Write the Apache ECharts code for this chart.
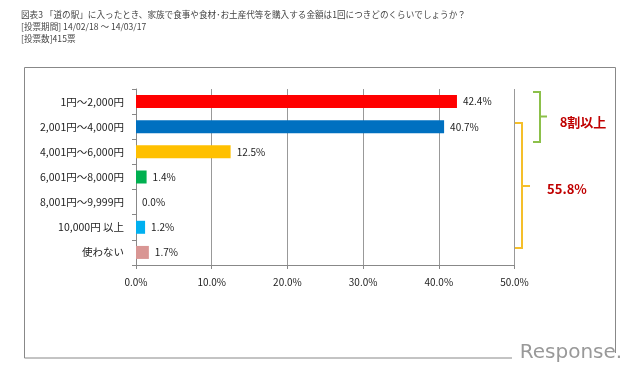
<!DOCTYPE html>
<html><head><meta charset="utf-8">
<script src="https://cdn.jsdelivr.net/npm/echarts@6/dist/echarts.min.js"></script>
<style>html,body{margin:0;padding:0;background:#fff}#c{width:640px;height:378px}</style>
</head><body><div id="c"></div>
<script>
const categories = ['1円～2,000円','2,001円～4,000円','4,001円～6,000円','6,001円～8,000円','8,001円～9,999円','10,000円 以上','使わない'];
const values = [42.4, 40.7, 12.5, 1.4, 0.0, 1.2, 1.7];
const barColors = ['#ff0000','#0070c0','#ffc000','#00b050','#cccccc','#00b0f0','#d99694'];
const xTicks = [0, 10, 20, 30, 40, 50];
const titleLines = ['図表3 「道の駅」に入ったとき、家族で食事や食材･お土産代等を購入する金額は1回につきどのくらいでしょうか？','[投票期間] 14/02/18 ～ 14/03/17','[投票数]415票'];
const note1 = '8割以上';
const note2 = '55.8%';

const chart = echarts.init(document.getElementById('c'), null, {renderer:'canvas'});
const font = '"Noto Sans CJK JP", "Noto Sans", sans-serif';
const option = {
  animation: false,
  textStyle: {fontFamily: font},
  title: {
    text: titleLines.join('\n'), left: 21, top: 9, padding: 0,
    textStyle: {fontSize: 8.6, fontWeight: 'normal', color: '#444', lineHeight: 12, fontFamily: font}
  },
  grid: {left: 136, right: 125.5, top: 89, bottom: 113, containLabel: false},
  xAxis: {
    type: 'value', min: xTicks[0], max: xTicks[xTicks.length-1], interval: 10,
    axisLine: {show: true, lineStyle: {color: '#888'}},
    axisTick: {show: true, length: 4, lineStyle: {color: '#888'}},
    splitLine: {show: true, lineStyle: {color: '#999', width: 1}},
    axisLabel: {formatter: v => v.toFixed(1) + '%', fontSize: 10, color: '#222', margin: 12, fontFamily: font}
  },
  yAxis: {
    type: 'category', data: categories, inverse: true,
    axisLine: {show: true, lineStyle: {color: '#888'}},
    axisTick: {show: true, length: 4, lineStyle: {color: '#888'}},
    axisLabel: {fontSize: 10.5, color: '#222', margin: 12, fontFamily: font}
  },
  series: [{
    type: 'bar', barWidth: 13,
    data: values.map((v, i) => ({value: v, itemStyle: {color: barColors[i]}})),
    label: {show: true, position: 'right', distance: 6, fontSize: 10, color: '#222',
      formatter: p => p.value.toFixed(1) + '%', fontFamily: font}
  }],
  graphic: [
    {type: 'rect', shape: {x: 24.5, y: 67.5, width: 591, height: 290.5}, style: {fill: 'none', stroke: '#888', lineWidth: 1}, z: -1},
    {type: 'polyline', shape: {points: [[533,92],[540,92],[540,142],[533,142]]}, style: {fill: 'none', stroke: '#8cc04a', lineWidth: 2}},
    {type: 'line', shape: {x1: 540, y1: 116.5, x2: 547, y2: 116.5}, style: {stroke: '#8cc04a', lineWidth: 2}},
    {type: 'polyline', shape: {points: [[515,123],[522,123],[522,248],[515,248]]}, style: {fill: 'none', stroke: '#f5bf2a', lineWidth: 2}},
    {type: 'line', shape: {x1: 522, y1: 186, x2: 530, y2: 186}, style: {stroke: '#f5bf2a', lineWidth: 2}},
    {type: 'text', style: {text: note1, x: 583, y: 122, align: 'center', verticalAlign: 'middle', fill: '#c00000', font: 'bold 13px ' + font}},
    {type: 'text', style: {text: note2, x: 567, y: 189, align: 'center', verticalAlign: 'middle', fill: '#c00000', font: 'bold 13px ' + font}},
    {type: 'rect', shape: {x: 512, y: 353, width: 120, height: 12}, style: {fill: '#fff'}},
    {type: 'text', style: {text: 'Response.', x: 571, y: 353, align: 'center', verticalAlign: 'middle', fill: '#999', font: '20px "DejaVu Sans", sans-serif'}}
  ]
};
chart.setOption(option);
</script></body></html>
